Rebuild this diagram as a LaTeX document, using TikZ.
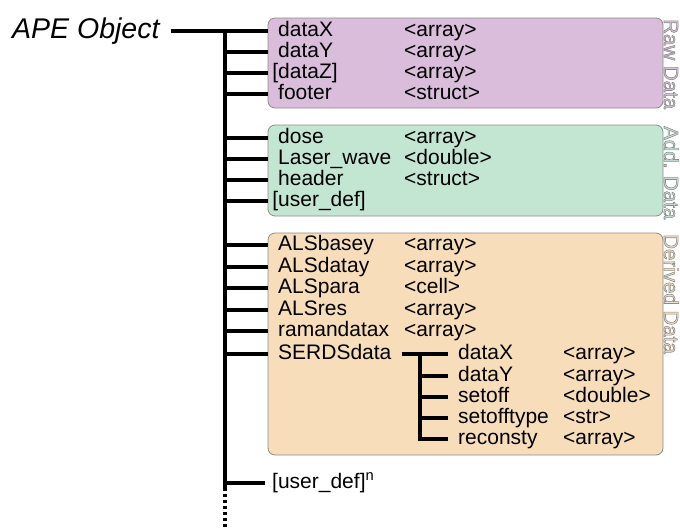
\documentclass[tikz,border=0pt]{standalone}
\usepackage{fontspec}
\setmainfont{Liberation Sans}

\definecolor{rawfill}{HTML}{D9BDDB}
\definecolor{addfill}{HTML}{C3E6D3}
\definecolor{derfill}{HTML}{F7DDB9}
\definecolor{boxline}{HTML}{8C8C8C}

\tikzset{
  branch/.style={line width=3.5pt},
  group/.style={draw=boxline, line width=0.8pt, rounded corners=7pt,
    anchor=north west, inner sep=0pt, outer sep=0pt},
  field/.style={anchor=west, inner sep=0pt, text height=15pt, text depth=4pt,
    font=\fontsize{21}{23}\selectfont},
  grouplabel/.style={rotate=-90, anchor=base west, inner sep=0pt,
    font=\fontsize{20.5}{22}\selectfont}
}

% outlined text: fill and stroke, grey outline
\newcommand{\hollowtext}[2]{{\color{#1}%
    \special{pdf:literal direct 2 Tr 0.6 w 0.55 0.55 0.55 RG}#2%
    \special{pdf:literal direct 0 Tr}}}

\begin{document}
\begin{tikzpicture}[x=1pt,y=-1pt]
    \useasboundingbox (0,0) rectangle (680,530);

    \node[anchor=west, inner sep=0pt, font=\fontsize{28.5}{30}\selectfont\itshape]
    (ape) at (12,31) {APE Object};

    % the three groups
    \node[group, fill=rawfill, minimum width=395pt, minimum height=90pt] (raw) at (268,18) {};
    \node[group, fill=addfill, minimum width=395pt, minimum height=91pt] (add) at (268,125) {};
    \node[group, fill=derfill, minimum width=395pt, minimum height=222pt] (der) at (268,233) {};

    \node[grouplabel] (rawlabel) at (664,19) {\hollowtext{rawfill}{Raw Data}};
    \node[grouplabel] (addlabel) at (664,126) {\hollowtext{addfill}{Add. Data}};
    \node[grouplabel] (derlabel) at (664,234) {\hollowtext{derfill}{Derived Data}};

    % trunk
    \coordinate (trunk) at (225,31);
    \coordinate (trunkend) at (225,488);
    \coordinate (trunkfoot) at (225,530);
    \draw[branch] ([xshift=11pt]ape.east) -- (raw.west |- ape.east);
    \draw[branch] (trunk) -- (trunkend);
    \draw[branch, dash pattern=on 3pt off 3pt] (trunkend) -- (trunkfoot);

    \foreach \name/\type/\y [count=\i] in {dataX/{<array>}/31, dataY/{<array>}/52,
      \llap{[}dataZ]/{<array>}/73, footer/{<struct>}/94} {
      \node[field] (raw\i) at (278,\y) {\name};
      \node[field] (rawtype\i) at (404,\y) {\type};
      \draw[branch] (trunk |- raw\i.west) -- (raw.west |- raw\i.west);
    } ;

    \foreach \name/\type/\y [count=\i] in {dose/{<array>}/138, Laser\_wave/{<double>}/159,
      header/{<struct>}/180, \llap{[}user\_def]/{}/201} {
      \node[field] (add\i) at (278,\y) {\name};
      \node[field] (addtype\i) at (404,\y) {\type};
      \draw[branch] (trunk |- add\i.west) -- (add.west |- add\i.west);
    } ;

    \foreach \name/\type/\y [count=\i] in {ALSbasey/{<array>}/245, ALSdatay/{<array>}/267,
      ALSpara/{<cell>}/288, ALSres/{<array>}/310, ramandatax/{<array>}/331,
      SERDSdata/{}/354} {
      \node[field] (der\i) at (278,\y) {\name};
      \node[field] (dertype\i) at (404,\y) {\type};
      \draw[branch] (trunk |- der\i.west) -- (der.west |- der\i.west);
    } ;

    % SERDSdata sub tree
    \coordinate (subtrunk) at (420,354);
    \foreach \name/\type/\y [count=\i] in {dataX/{<array>}/354, dataY/{<array>}/376,
      setoff/{<double>}/397, setofftype/{<str>}/418, reconsty/{<array>}/439} {
      \node[field] (sub\i) at (458,\y) {\name};
      \node[field] (subtype\i) at (563,\y) {\type};
    } ;
    \draw[branch] ([xshift=10pt]der6.east) -- ([xshift=-10pt]sub1.west);
    \draw[branch] (subtrunk |- sub1.west) -- (subtrunk |- sub5.west)
      -- ([xshift=-10pt]sub5.west);
    \foreach \i in {2,3,4} {
      \draw[branch] (subtrunk |- sub\i.west) -- ([xshift=-10pt]sub\i.west);
    } ;

    \node[field] (userdefn) at (272,483) {[user\_def]\textsuperscript{n}};
    \draw[branch] (trunk |- userdefn.west) -- ([xshift=-7pt]userdefn.west);
\end{tikzpicture}
\end{document}
